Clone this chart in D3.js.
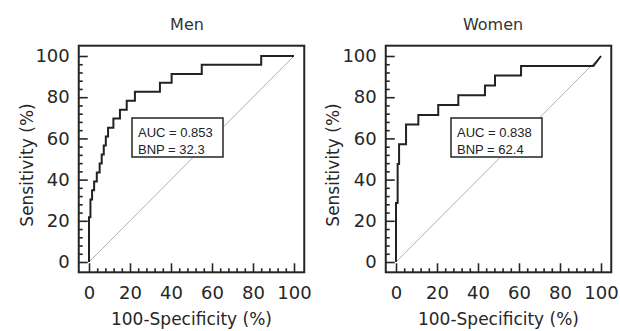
<!DOCTYPE html>
<html>
<head>
<meta charset="utf-8">
<script src="https://cdn.jsdelivr.net/npm/d3@7"></script>
<style>
  body { margin: 0; background: #fff; }
</style>
</head>
<body>
<div id="chart"></div>
<script>
// values
const panelTitles = ['Men', 'Women'];
const menFpr = [0, 0, 0.7, 0.7, 1.5, 1.5, 2.5, 2.5, 3.8, 3.8, 5.2, 5.2, 6.2, 6.2, 7.2, 7.2, 8.2, 8.2, 9.3, 9.3,
  11.9, 11.9, 15.1, 15.1, 18.4, 18.4, 22.4, 22.4, 34.6, 34.6, 40.3, 40.3, 55, 55, 84, 84, 100];
const menTpr = [0, 21.7, 21.7, 30.4, 30.4, 34.8, 34.8, 39.1, 39.1, 43.5, 43.5, 47.8, 47.8, 52.2, 52.2, 56.5, 56.5, 60.9, 60.9, 65.2,
  65.2, 69.6, 69.6, 73.9, 73.9, 78.3, 78.3, 82.6, 82.6, 87, 87, 91.3, 91.3, 95.7, 95.7, 100, 100];
const womenFpr = [0, 0, 0.8, 0.8, 1.5, 1.5, 4.9, 4.9, 10.9, 10.9, 20.6, 20.6, 30.4, 30.4, 43.4, 43.4, 48.3, 48.3, 61, 61, 96.3, 100];
const womenTpr = [0, 28.6, 28.6, 47.6, 47.6, 57.1, 57.1, 66.7, 66.7, 71.4, 71.4, 76.2, 76.2, 81, 81, 85.7, 85.7, 90.5, 90.5, 95.2, 95.2, 100];
const aucValues = ['0.853', '0.838'];
const bnpCutoffs = ['32.3', '62.4'];
const majorTicks = [0, 20, 40, 60, 80, 100];
const minorTicks = [4, 8, 12, 16, 24, 28, 32, 36, 44, 48, 52, 56, 64, 68, 72, 76, 84, 88, 92, 96];

const width = 620;
const height = 331;
const ink = '#252525';

const svg = d3.select('#chart')
  .append('svg')
  .attr('width', width)
  .attr('height', height)
  .style('font-family', '"DejaVu Sans", Verdana, sans-serif');

const panels = [
  { left: 89, fpr: menFpr, tpr: menTpr, titleX: 187, boxX: 132, yLabelX: 27 },
  { left: 396, fpr: womenFpr, tpr: womenTpr, titleX: 493, boxX: 451, yLabelX: 333 },
];

panels.forEach((p, i) => drawPanel(p, i));

function drawPanel(p, i) {
  const x = d3.scaleLinear().domain([0, 100]).range([p.left, p.left + 205]);
  const y = d3.scaleLinear().domain([0, 100]).range([262, 56]);
  const g = svg.append('g');

  const frameL = x(-5), frameR = x(105), frameT = y(105), frameB = y(-5);

  // chance line
  g.append('line')
    .attr('x1', x(0)).attr('y1', y(0))
    .attr('x2', x(100)).attr('y2', y(100))
    .attr('stroke', '#b0b0b0')
    .attr('stroke-width', 1);

  // minor + major ticks, pointing inward
  const xMinor = d3.axisBottom(x).tickValues(minorTicks).tickSize(-4).tickFormat('');
  const xMajor = d3.axisBottom(x).tickValues(majorTicks).tickSize(-9).tickPadding(14);
  const yMinor = d3.axisLeft(y).tickValues(minorTicks).tickSize(-4).tickFormat('');
  const yMajor = d3.axisLeft(y).tickValues(majorTicks).tickSize(-9).tickPadding(9);

  [xMinor, xMajor].forEach(ax => {
    g.append('g')
      .attr('transform', 'translate(0,' + frameB + ')')
      .call(ax);
  });
  [yMinor, yMajor].forEach(ax => {
    g.append('g')
      .attr('transform', 'translate(' + frameL + ',0)')
      .call(ax);
  });
  g.selectAll('.domain').remove();
  g.selectAll('.tick line').attr('stroke', ink).attr('stroke-width', 1.6);
  g.selectAll('.tick text')
    .attr('fill', '#262626')
    .style('font-size', '18px')
    .style('font-family', '"DejaVu Sans", Verdana, sans-serif');

  // frame
  g.append('rect')
    .attr('x', frameL).attr('y', frameT)
    .attr('width', frameR - frameL).attr('height', frameB - frameT)
    .attr('fill', 'none')
    .attr('stroke', ink)
    .attr('stroke-width', 2);

  // ROC curve
  const pts = p.fpr.map((f, k) => [f, p.tpr[k]]);
  g.append('path')
    .datum(pts)
    .attr('fill', 'none')
    .attr('stroke', '#222')
    .attr('stroke-width', 2)
    .attr('stroke-linejoin', 'miter')
    .attr('d', d3.line().x(d => x(d[0])).y(d => y(d[1])));

  // AUC box
  g.append('rect')
    .attr('x', p.boxX).attr('y', 118)
    .attr('width', 91).attr('height', 39)
    .attr('fill', '#fff')
    .attr('stroke', ink)
    .attr('stroke-width', 1.5);
  const boxText = g.append('text')
    .attr('fill', '#222')
    .style('font-family', '"Liberation Sans", Arial, sans-serif')
    .style('font-size', '13px');
  boxText.append('tspan').attr('x', p.boxX + 6).attr('y', 137).text('AUC = ' + aucValues[i]);
  boxText.append('tspan').attr('x', p.boxX + 6).attr('y', 154).text('BNP = ' + bnpCutoffs[i]);

  // titles and axis labels
  g.append('text')
    .attr('x', p.titleX).attr('y', 30)
    .attr('text-anchor', 'middle')
    .attr('fill', '#333')
    .style('font-size', '16px')
    .text(panelTitles[i]);

  g.append('text')
    .attr('x', (frameL + frameR) / 2).attr('y', 325)
    .attr('text-anchor', 'middle')
    .attr('fill', '#262626')
    .style('font-size', '17px')
    .text('100-Specificity (%)');

  g.append('text')
    .attr('transform', 'translate(' + p.yLabelX + ',165) rotate(-90)')
    .attr('text-anchor', 'middle')
    .attr('dy', '0.35em')
    .attr('fill', '#262626')
    .style('font-size', '17px')
    .text('Sensitivity (%)');
}
</script>
</body>
</html>
